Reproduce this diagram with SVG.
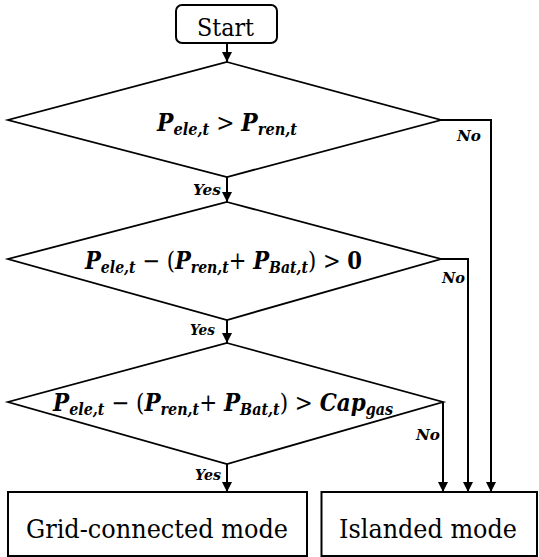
<svg xmlns="http://www.w3.org/2000/svg" width="539" height="557" viewBox="0 0 539 557">
<style>
.shape{fill:#fff;stroke:#000;stroke-width:2}
.dia{fill:#fff;stroke:#000;stroke-width:1.8;stroke-linejoin:miter}
.conn{fill:none;stroke:#000;stroke-width:2}
text{font-family:'DejaVu Serif',serif;fill:#000}
.lbl{font-size:26px}
.math{font-weight:bold;font-style:italic;font-size:24px}
.up{font-style:normal;font-weight:normal}
.sub{font-size:16px}
.yn{font-weight:bold;font-style:italic;font-size:15px}
</style>
<defs>
<marker id="ah" markerWidth="10" markerHeight="12" refX="10" refY="5" orient="auto" markerUnits="userSpaceOnUse" viewBox="0 0 10 10">
<path d="M0,0 L10,5 L0,10 z" fill="#000"/>
</marker>
</defs>
<g id="start">
<rect class="shape" x="176" y="5" width="101" height="38" rx="6"/>
<text x="197" y="36" font-size="24" textLength="57" lengthAdjust="spacingAndGlyphs">Start</text>
</g>
<g id="d1">
<polygon class="dia" points="227,62 441,120 227,177 8,120"/>
<text class="math" x="157" y="131" textLength="140" lengthAdjust="spacingAndGlyphs">P<tspan class="sub" dy="4">ele,t</tspan><tspan class="up" dy="-4"> &gt; </tspan>P<tspan class="sub" dy="4">ren,t</tspan></text>
</g>
<g id="d2">
<polygon class="dia" points="227,202 441,259 227,320 8,259"/>
<text class="math" x="85" y="269" textLength="277" lengthAdjust="spacingAndGlyphs">P<tspan class="sub" dy="4">ele,t</tspan><tspan class="up" dy="-4"> − (</tspan>P<tspan class="sub" dy="4">ren,t</tspan><tspan class="up" dy="-4">+ </tspan>P<tspan class="sub" dy="4">Bat,t</tspan><tspan class="up" dy="-4">) &gt; </tspan><tspan style="font-style:normal">0</tspan></text>
</g>
<g id="d3">
<polygon class="dia" points="227,343 443,402 227,464 8,402"/>
<text class="math" x="53" y="411" textLength="340" lengthAdjust="spacingAndGlyphs">P<tspan class="sub" dy="4">ele,t</tspan><tspan class="up" dy="-4"> − (</tspan>P<tspan class="sub" dy="4">ren,t</tspan><tspan class="up" dy="-4">+ </tspan>P<tspan class="sub" dy="4">Bat,t</tspan><tspan class="up" dy="-4">) &gt; </tspan>Cap<tspan class="sub" dy="4">gas</tspan></text>
</g>
<g id="grid">
<rect class="shape" x="8" y="492" width="299" height="64"/>
<text class="lbl" x="26" y="538" textLength="262" lengthAdjust="spacingAndGlyphs">Grid-connected mode</text>
</g>
<g id="island">
<rect class="shape" x="321.5" y="492" width="215.5" height="64"/>
<text class="lbl" x="339" y="538" textLength="178" lengthAdjust="spacingAndGlyphs">Islanded mode</text>
</g>
<g id="connectors">
<path class="conn" d="M227,43 V62" marker-end="url(#ah)"/>
<path class="conn" d="M227,177 V202" marker-end="url(#ah)"/>
<path class="conn" d="M227,320 V343" marker-end="url(#ah)"/>
<path class="conn" d="M227,464 V492" marker-end="url(#ah)"/>
<path class="conn" d="M441,120 H491 V492" marker-end="url(#ah)"/>
<path class="conn" d="M441,259 H468 V492" marker-end="url(#ah)"/>
<path class="conn" d="M443,402 V492" marker-end="url(#ah)"/>
<text class="yn" x="193" y="195" textLength="28" lengthAdjust="spacingAndGlyphs">Yes</text>
<text class="yn" x="190" y="335" textLength="25" lengthAdjust="spacingAndGlyphs">Yes</text>
<text class="yn" x="195" y="480" textLength="26" lengthAdjust="spacingAndGlyphs">Yes</text>
<text class="yn" x="457" y="141" textLength="24" lengthAdjust="spacingAndGlyphs">No</text>
<text class="yn" x="442" y="283" textLength="23" lengthAdjust="spacingAndGlyphs">No</text>
<text class="yn" x="416" y="440" textLength="24" lengthAdjust="spacingAndGlyphs">No</text>
</g>
</svg>
